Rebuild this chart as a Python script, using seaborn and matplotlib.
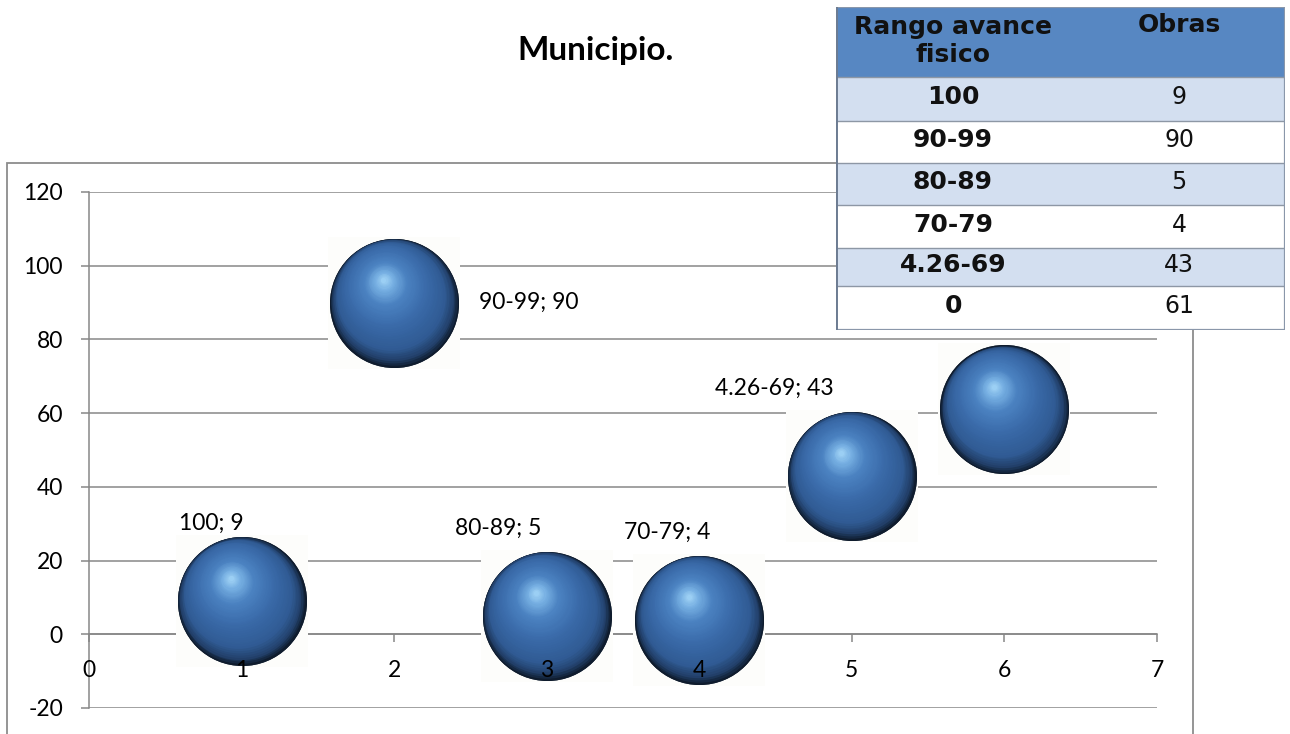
import numpy as np
import pandas as pd
import matplotlib
matplotlib.use("Agg")
import matplotlib.pyplot as plt
import matplotlib.transforms as mtransforms
from matplotlib.patches import Rectangle
from matplotlib.colors import to_rgb
import seaborn as sns

# ---------------- data ----------------
rangos = ["100", "90-99", "80-89", "70-79", "4.26-69", "0"]
posicion = [1, 2, 3, 4, 5, 6]
obras = [9, 90, 5, 4, 43, 61]
y_ticks = [-20, 0, 20, 40, 60, 80, 100, 120]
x_ticks = [0, 1, 2, 3, 4, 5, 6, 7]
tabla_encabezado = ["Rango avance\nfisico", "Obras"]
titulo = "Municipio."

# ---------------- style ----------------
plt.rcParams["axes.unicode_minus"] = False
plt.rcParams["font.family"] = ["Lato", "DejaVu Sans"]

df = pd.DataFrame({"pos": posicion, "obras": obras, "rango": rangos})

W, H = 1290, 734
fig = plt.figure(figsize=(W / 100, H / 100), dpi=100)


def fx(px):
    return px / W


def fy(py):
    return 1 - py / H


# outer chart frame
fig.patches.append(Rectangle((fx(7), fy(760)), fx(1193) - fx(7), fy(163) - fy(760),
                             transform=fig.transFigure, fill=False,
                             ec="#8c8c8c", lw=1.3, zorder=0))

ax_pos = [fx(89), fy(708), fx(1157) - fx(89), fy(192) - fy(708)]
ax = fig.add_axes(ax_pos)
ax.set_facecolor("none")

grid_c = "#878787"

# white square backgrounds (image halo of the original bubbles)
ax.scatter(df["pos"], df["obras"], s=(129 * 0.72 + 1.5) ** 2, marker="s",
           color="#fdfdfb", linewidths=0, zorder=0.8)

# bubble geometry (points)
D = 129 * 72 / 100.0
R = D / 2

# base sphere layer via seaborn
sns.scatterplot(data=df, x="pos", y="obras", s=D ** 2, color="#0f1c2e",
                linewidth=0, ax=ax, zorder=1, legend=False)

stops_t = [0.00, 0.06, 0.16, 0.40, 0.66, 0.85, 1.00]
stops_c = ["#0f1c2e", "#22406a", "#305b94", "#3b6cab", "#4b82c1", "#76afe2", "#a9dafa"]
stops_rgb = np.array([to_rgb(c) for c in stops_c])


def grad(t):
    return [np.interp(t, stops_t, stops_rgb[:, k]) for k in range(3)]


hx, hy = -0.17 * R, 0.36 * R
N = 50
for i, t in enumerate(np.linspace(0.0, 0.96, N)):
    d = D * (1 - t)
    f = min(1.9 * t, 0.5 + 0.5 * t)
    tr = mtransforms.offset_copy(ax.transData, fig=fig, x=f * hx, y=f * hy,
                                 units="points")
    ax.scatter(df["pos"], df["obras"], s=d ** 2, color=grad(t),
               linewidths=0, transform=tr, zorder=1.01 + 0.01 * i)

ax.set_xlim(0, 7)
ax.set_ylim(-20, 120)
ax.set_xlabel("")
ax.set_ylabel("")
ax.set_xticks(x_ticks)
ax.set_yticks(y_ticks)
ax.set_yticklabels([str(v) for v in y_ticks])
ax.yaxis.grid(True, color=grid_c, lw=1.1)
ax.xaxis.grid(False)
for s in ["top", "right"]:
    ax.spines[s].set_visible(False)
for s in ["left", "bottom"]:
    ax.spines[s].set_color(grid_c)
    ax.spines[s].set_linewidth(1.1)
ax.spines["bottom"].set_position(("data", 0))
for s in ax.spines.values():
    s.set_zorder(0.6)
ax.tick_params(axis="y", length=5.8, width=1.1, color=grid_c, pad=13,
               labelsize=16.5, labelcolor="black")
ax.tick_params(axis="x", length=5.8, width=1.1, color=grid_c, labelbottom=False)
ax.yaxis.set_zorder(0.5)
ax.xaxis.set_zorder(0.5)

# overlay axes carrying only the x tick labels (drawn above the bubbles)
ax2 = fig.add_axes(ax_pos, sharex=ax, sharey=ax, zorder=5)
ax2.set_facecolor("none")
for s in ax2.spines.values():
    s.set_color("none")
ax2.spines["bottom"].set_position(("data", 0))
ax2.set_xticks(x_ticks)
ax2.set_xticklabels([str(v) for v in x_ticks])
ax2.tick_params(axis="x", length=0, pad=18.8, labelsize=16.5, labelcolor="black")
ax2.tick_params(axis="y", left=False, labelleft=False)

# data labels (offsets in px -> points); last one is hidden behind the table
lab_off = [(-30, 78, "center"), (85, 0, "left"), (-49, 88, "center"),
           (-32, 87, "center"), (-78, 87, "center"), None]
for (x, y, r), off in zip(zip(posicion, obras, rangos), lab_off):
    if off is None:
        continue
    dx, dy, ha = off
    ax.annotate(f"{r}; {y}", xy=(x, y), xytext=(dx * 0.72, dy * 0.72),
                textcoords="offset points", ha=ha, va="center",
                fontsize=16.5, color="black", zorder=4)

# title (second line visible)
fig.text(fx(595), fy(60), titulo, ha="center", va="baseline", fontsize=24,
         weight="bold", family=["Lato", "DejaVu Sans"])

# ---------------- table overlay ----------------
tx0, tx1, ty0, ty1 = 836, 1285, 7, 330
tax = fig.add_axes([fx(tx0), fy(ty1), fx(tx1) - fx(tx0), fy(ty0) - fy(ty1)], zorder=10)
tax.set_xlim(tx0, tx1)
tax.set_ylim(ty1, ty0)
tax.axis("off")
tax.add_patch(Rectangle((tx0, ty0), tx1 - tx0, ty1 - ty0, fc="white", ec="none", zorder=0))
hdr_bottom = 77
tax.add_patch(Rectangle((tx0, ty0), tx1 - tx0, hdr_bottom - ty0, fc="#5787c2", ec="none", zorder=1))
row_edges = [77, 121, 163, 205, 248, 286, 330]
for i in range(6):
    fc = "#d3dff0" if i % 2 == 0 else "white"
    tax.add_patch(Rectangle((tx0, row_edges[i]), tx1 - tx0, row_edges[i + 1] - row_edges[i],
                            fc=fc, ec="none", zorder=1))
for yb in row_edges[:-1]:
    tax.plot([tx0, tx1], [yb, yb], color="#8d97a5", lw=1.0, zorder=2)
tax.add_patch(Rectangle((tx0, ty0), tx1 - tx0, ty1 - ty0, fill=False, ec="#8a97aa", lw=1.6, zorder=3))
tax.plot([tx0 + 1, tx0 + 1], [ty0, ty1], color="#6d7c92", lw=1.4, zorder=3)

c1, c2 = 953, 1179
tax.text(c1, 41, tabla_encabezado[0], ha="center", va="center", fontsize=18,
         weight="bold", family="DejaVu Sans", linespacing=1.2, color="#111111", zorder=4)
tax.text(c2, 25, tabla_encabezado[1], ha="center", va="center", fontsize=18,
         weight="bold", family="DejaVu Sans", color="#111111", zorder=4)
for i, (r, v) in enumerate(zip(rangos, obras)):
    yc = (row_edges[i] + row_edges[i + 1]) / 2 - 2
    tax.text(c1, yc, r, ha="center", va="center", fontsize=18, weight="bold",
             family="DejaVu Sans", color="#111111", zorder=4)
    tax.text(c2, yc, str(v), ha="center", va="center", fontsize=17,
             family="DejaVu Sans", color="#111111", zorder=4)

fig.savefig("out.png", dpi=100)
